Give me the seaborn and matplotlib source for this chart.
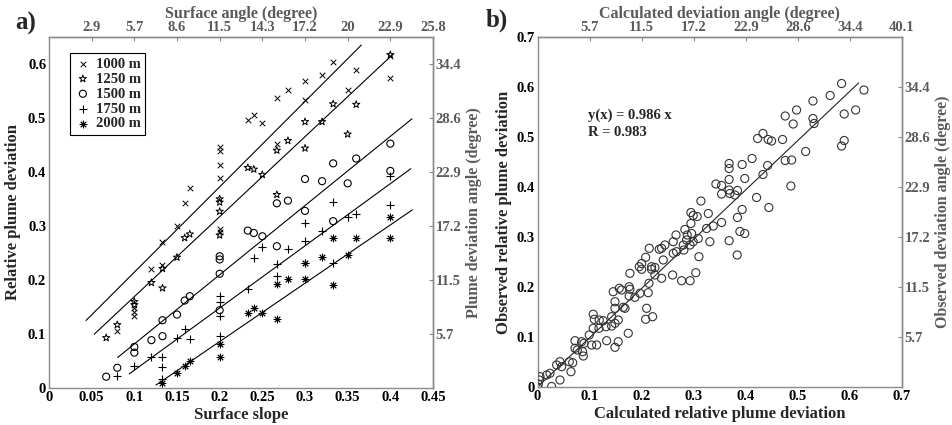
import numpy as np
import pandas as pd
import matplotlib
matplotlib.use("Agg")
import matplotlib.pyplot as plt
import seaborn as sns

# ---------------- data: panel a ----------------
depths = ["1000 m", "1250 m", "1500 m", "1750 m", "2000 m"]

slope_1000 = [0.08, 0.1, 0.1, 0.1, 0.12, 0.133, 0.133, 0.15, 0.159, 0.165,
              0.2, 0.2, 0.2, 0.2, 0.2, 0.2, 0.233, 0.24, 0.25, 0.267, 0.267,
              0.28, 0.3, 0.3, 0.32, 0.333, 0.35, 0.36, 0.4, 0.4]
dev_1000 = [0.105, 0.148, 0.14, 0.133, 0.22, 0.27, 0.228, 0.30, 0.342, 0.371,
            0.446, 0.438, 0.413, 0.389, 0.295, 0.288, 0.496, 0.505, 0.490, 0.537, 0.452,
            0.551, 0.569, 0.534, 0.579, 0.604, 0.551, 0.589, 0.614, 0.574]

slope_1250 = [0.067, 0.08, 0.1, 0.1, 0.12, 0.133, 0.133, 0.15, 0.159, 0.165,
              0.2, 0.2, 0.2, 0.2, 0.233, 0.24, 0.25, 0.267, 0.267, 0.28,
              0.3, 0.3, 0.32, 0.333, 0.35, 0.36, 0.4]
dev_1250 = [0.093, 0.117, 0.16, 0.154, 0.195, 0.221, 0.185, 0.242, 0.278, 0.285,
            0.35, 0.344, 0.327, 0.283, 0.408, 0.405, 0.395, 0.44, 0.358, 0.458,
            0.493, 0.444, 0.493, 0.526, 0.47, 0.525, 0.617]

slope_1500 = [0.067, 0.08, 0.1, 0.1, 0.12, 0.133, 0.133, 0.15, 0.159, 0.165,
              0.2, 0.2, 0.2, 0.2, 0.233, 0.24, 0.25, 0.267, 0.267, 0.28,
              0.3, 0.3, 0.32, 0.333, 0.333, 0.35, 0.36, 0.4, 0.4]
dev_1500 = [0.021, 0.0375, 0.076, 0.0655, 0.0886, 0.1255, 0.096, 0.136, 0.162, 0.170,
            0.2116, 0.144, 0.244, 0.238, 0.2915, 0.287, 0.281, 0.2626, 0.342, 0.347,
            0.387, 0.328, 0.383, 0.416, 0.309, 0.379, 0.425, 0.4525, 0.402]

slope_1750 = [0.08, 0.1, 0.12, 0.133, 0.133, 0.133, 0.15, 0.159, 0.165,
              0.2, 0.2, 0.2, 0.2, 0.233, 0.24, 0.25, 0.267, 0.267, 0.28,
              0.3, 0.3, 0.3, 0.32, 0.333, 0.333, 0.35, 0.36, 0.4, 0.4]
dev_1750 = [0.022, 0.0406, 0.0566, 0.0578, 0.039, 0.016, 0.0917, 0.109, 0.090,
            0.171, 0.159, 0.134, 0.097, 0.184, 0.24, 0.261, 0.23, 0.2066, 0.257,
            0.305, 0.272, 0.231, 0.29, 0.344, 0.2316, 0.317, 0.323, 0.3395, 0.393]

slope_2000 = [0.133, 0.15, 0.159, 0.165, 0.2, 0.2, 0.233, 0.24, 0.25, 0.267, 0.267,
              0.28, 0.3, 0.3, 0.32, 0.333, 0.333, 0.35, 0.36, 0.4, 0.4]
dev_2000 = [0.0087, 0.027, 0.041, 0.050, 0.0578, 0.082, 0.1395, 0.149, 0.1395, 0.128, 0.193,
            0.201, 0.2316, 0.201, 0.242, 0.278, 0.19, 0.2466, 0.278, 0.316, 0.278]

# linear fits per depth (slope, intercept, x-range)
fit_slope = [1.581, 1.481, 1.2815, 1.1515, 1.080]
fit_icpt = [0.0564, 0.0211, -0.0466, -0.0822, -0.130]
fit_xmin = [0.0434, 0.053, 0.0805, 0.094, 0.1254]
fit_xmax = [0.366, 0.403, 0.4254, 0.424, 0.4258]

a_xticks = [0, 0.05, 0.1, 0.15, 0.2, 0.25, 0.3, 0.35, 0.4, 0.45]
a_xticklabels = ["0", "0.05", "0.1", "0.15", "0.2", "0.25", "0.3", "0.35", "0.4", "0.45"]
a_yticks = [0, 0.1, 0.2, 0.3, 0.4, 0.5, 0.6]
a_yticklabels = ["0", "0.1", "0.2", "0.3", "0.4", "0.5", "0.6"]
a_top_labels = ["2.9", "5.7", "8.6", "11.5", "14.3", "17.2", "20", "22.9", "25.8"]
a_right_labels = ["5.7", "11.5", "17.2", "22.9", "28.6", "34.4"]

# ---------------- data: panel b ----------------
calc_dev = [0.0, 0.0016, 0.0035, 0.0048, 0.0177, 0.024, 0.0272, 0.0368, 0.0432, 0.0432,
            0.0464, 0.061, 0.0643, 0.0676, 0.072, 0.072, 0.0764, 0.0848, 0.0867, 0.088,
            0.0893, 0.0994, 0.104, 0.107, 0.107, 0.109, 0.1136, 0.118, 0.1186, 0.1263,
            0.1315, 0.1328, 0.1424, 0.1424, 0.1455, 0.1488, 0.1488, 0.1488, 0.1488, 0.1551,
            0.155, 0.157, 0.1616, 0.1647, 0.168, 0.1743, 0.176, 0.1775, 0.1775, 0.176,
            0.187, 0.1954, 0.1967, 0.2, 0.2, 0.2077, 0.2077, 0.2096, 0.2127, 0.214,
            0.2146, 0.219, 0.219, 0.2255, 0.2255, 0.221, 0.2338, 0.2383, 0.2383, 0.2415,
            0.2447, 0.2594, 0.2607, 0.2607, 0.266, 0.267, 0.2767, 0.28, 0.281, 0.283,
            0.293, 0.2863, 0.2876, 0.2927, 0.2946, 0.2946, 0.296, 0.299, 0.299, 0.304,
            0.3067, 0.3087, 0.31, 0.3138, 0.3247, 0.328, 0.331, 0.3375, 0.3426, 0.3535,
            0.3535, 0.3535, 0.368, 0.368, 0.368, 0.368, 0.368, 0.3695, 0.379, 0.3835,
            0.384, 0.384, 0.3887, 0.393, 0.393, 0.398, 0.398, 0.412, 0.4207, 0.4226,
            0.433, 0.433, 0.442, 0.443, 0.4443, 0.4495, 0.4706, 0.4757, 0.4757, 0.4866,
            0.488, 0.491, 0.4975, 0.515, 0.529, 0.529, 0.531, 0.562, 0.584, 0.584,
            0.589, 0.589, 0.611, 0.627]
obs_dev = [0.0, 0.006, 0.014, 0.0206, 0.024, 0.0274, 0.001, 0.044, 0.0506, 0.014,
           0.0406, 0.0506, 0.0306, 0.0486, 0.0926, 0.0774, 0.074, 0.0906, 0.0706, 0.062,
           0.0874, 0.104, 0.084, 0.1454, 0.1174, 0.1354, 0.084, 0.1174, 0.134, 0.1326,
           0.1206, 0.0926, 0.1406, 0.122, 0.1906, 0.1706, 0.1574, 0.1274, 0.0794, 0.134,
           0.0906, 0.1974, 0.194, 0.1594, 0.1574, 0.1074, 0.2006, 0.2274, 0.1954, 0.182,
           0.1794, 0.2406, 0.1874, 0.247, 0.2354, 0.2594, 0.1354, 0.1574, 0.1886, 0.2074,
           0.2774, 0.2406, 0.2354, 0.239, 0.224, 0.1406, 0.2754, 0.2774, 0.2174, 0.254,
           0.284, 0.224, 0.2906, 0.2674, 0.304, 0.2706, 0.2126, 0.284, 0.274, 0.315,
           0.2126, 0.294, 0.304, 0.284, 0.349, 0.327, 0.307, 0.343, 0.2906, 0.2286,
           0.341, 0.297, 0.2606, 0.372, 0.317, 0.347, 0.2906, 0.322, 0.406, 0.403,
           0.386, 0.329, 0.447, 0.437, 0.415, 0.394, 0.2926, 0.387, 0.384, 0.264,
           0.393, 0.339, 0.311, 0.445, 0.355, 0.417, 0.307, 0.457, 0.379, 0.497,
           0.507, 0.425, 0.443, 0.495, 0.359, 0.492, 0.495, 0.542, 0.453, 0.402,
           0.454, 0.526, 0.554, 0.471, 0.572, 0.537, 0.527, 0.583, 0.607, 0.482,
           0.546, 0.493, 0.554, 0.594]
reg_coef = 0.986
reg_r = 0.983
reg_xmax = 0.617

b_ticks = [0, 0.1, 0.2, 0.3, 0.4, 0.5, 0.6, 0.7]
b_ticklabels = ["0", "0.1", "0.2", "0.3", "0.4", "0.5", "0.6", "0.7"]
b_top_labels = ["5.7", "11.5", "17.2", "22.9", "28.6", "34.4", "40.1"]
b_right_labels = ["5.7", "11.5", "17.2", "22.9", "28.6", "34.4"]

# ---------------- style ----------------
sns.set_theme(style="white")
plt.rcParams["font.family"] = ["Liberation Serif", "DejaVu Serif"]
plt.rcParams["font.weight"] = "bold"
plt.rcParams["axes.labelweight"] = "bold"

GREY = "#8a8a8a"
GREY_TXT = "#5a5a5a"
TICK_FS = 10.5
LAB_FS = 12


def to_deg(v):
    return np.asarray(v) * 180.0 / np.pi


def to_rad(v):
    return np.asarray(v) * np.pi / 180.0


fig = plt.figure(figsize=(9.52, 4.25), dpi=100)
ax1 = fig.add_axes([49 / 952, 1 - 388 / 425, 384 / 952, 351 / 425])
ax2 = fig.add_axes([537.5 / 952, 1 - 387 / 425, 364.5 / 952, 350 / 425])

# ---------- panel a ----------
series = [
    (slope_1000, dev_1000, "x", dict(color="black", linewidths=0.7), 16),
    (slope_1250, dev_1250, "*", dict(facecolor="none", edgecolor="black", linewidths=0.7), 30),
    (slope_1500, dev_1500, "o", dict(facecolor="none", edgecolor="black", linewidths=0.8), 26),
    (slope_1750, dev_1750, "+", dict(color="black", linewidths=0.8), 34),
    (slope_2000, dev_2000, (8, 2, 0), dict(color="black", linewidths=0.7), 24),
]
for (xs, ys, mk, kw, sz), lab in zip(series, depths):
    df = pd.DataFrame({"slope": xs, "dev": ys})
    sns.scatterplot(data=df, x="slope", y="dev", marker=mk, s=sz, ax=ax1,
                    label=lab, zorder=3, **kw)

for k in range(len(depths)):
    xx = np.array([fit_xmin[k], fit_xmax[k]])
    dfl = pd.DataFrame({"x": xx, "y": fit_slope[k] * xx + fit_icpt[k]})
    sns.lineplot(data=dfl, x="x", y="y", color="black", linewidth=0.8, ax=ax1,
                 legend=False, zorder=2)

ax1.set_xlim(0, 0.45)
ax1.set_ylim(0, 0.65)
ax1.set_xticks(a_xticks, labels=a_xticklabels)
ax1.set_yticks(a_yticks, labels=a_yticklabels)
ax1.set_xlabel("Surface slope", fontsize=LAB_FS, fontweight="bold", labelpad=2)
ax1.set_ylabel("Relative plume deviation", fontsize=LAB_FS, fontweight="bold", labelpad=5)

leg = ax1.legend(loc="upper left", bbox_to_anchor=(0.035, 0.975), frameon=True,
                 fancybox=False, edgecolor="black", framealpha=1, borderpad=0.3,
                 labelspacing=0.12, handletextpad=0.3, handlelength=1.2,
                 prop={"family": "Liberation Serif", "weight": "bold", "size": 10.5})
leg.get_frame().set_linewidth(0.8)

top_a = ax1.secondary_xaxis("top", functions=(to_deg, to_rad))
top_a.set_ticks(to_deg(a_xticks[1:]), labels=a_top_labels)
top_a.set_xlabel("Surface angle (degree)", fontsize=LAB_FS - 0.5, fontweight="bold",
                 color=GREY_TXT, labelpad=2)
right_a = ax1.secondary_yaxis("right", functions=(to_deg, to_rad))
right_a.set_ticks(to_deg(a_yticks[1:]), labels=a_right_labels)
right_a.set_ylabel("Plume deviation angle (degree)", fontsize=LAB_FS - 0.5,
                   fontweight="bold", color=GREY_TXT, labelpad=3)

# ---------- panel b ----------
dfb = pd.DataFrame({"calc": calc_dev, "obs": obs_dev})
sns.scatterplot(data=dfb, x="calc", y="obs", marker="o", s=34, facecolor="none",
                edgecolor="#333333", linewidths=0.8, ax=ax2, zorder=3)
xr = np.array([0.0, reg_xmax])
sns.lineplot(x=xr, y=reg_coef * xr, color="#222222", linewidth=0.8, ax=ax2, zorder=2)
ax2.text(0.097, 0.544, f"y(x) = {reg_coef} x", fontsize=10.5, fontweight="bold",
         ha="left", va="center")
ax2.text(0.097, 0.51, f"R = {reg_r}", fontsize=10.5, fontweight="bold",
         ha="left", va="center")
ax2.set_xlim(0, 0.7)
ax2.set_ylim(0, 0.7)
ax2.set_xticks(b_ticks, labels=b_ticklabels)
ax2.set_yticks(b_ticks, labels=b_ticklabels)
ax2.set_xlabel("Calculated relative plume deviation", fontsize=LAB_FS,
               fontweight="bold", labelpad=2)
ax2.set_ylabel("Observed relative plume deviation", fontsize=LAB_FS,
               fontweight="bold", labelpad=3)

top_b = ax2.secondary_xaxis("top", functions=(to_deg, to_rad))
top_b.set_ticks(to_deg(b_ticks[1:]), labels=b_top_labels)
top_b.set_xlabel("Calculated deviation angle (degree)", fontsize=LAB_FS - 0.5,
                 fontweight="bold", color=GREY_TXT, labelpad=2)
right_b = ax2.secondary_yaxis("right", functions=(to_deg, to_rad))
right_b.set_ticks(to_deg(b_ticks[1:7]), labels=b_right_labels)
right_b.set_ylabel("Observed deviation angle (degree)", fontsize=LAB_FS - 0.5,
                   fontweight="bold", color=GREY_TXT, labelpad=3)

# ---------- common styling ----------
for ax in (ax1, ax2):
    for sp in ax.spines.values():
        sp.set_color(GREY)
        sp.set_linewidth(1.0)
    ax.tick_params(axis="both", direction="in", length=3, width=0.8, color=GREY,
                   labelsize=TICK_FS, labelcolor="black", pad=2)
    for lbl in ax.get_xticklabels() + ax.get_yticklabels():
        lbl.set_fontweight("bold")

for sec in (top_a, right_a, top_b, right_b):
    for sp in sec.spines.values():
        sp.set_color(GREY)
        sp.set_linewidth(1.0)
    sec.tick_params(direction="in", length=3, width=0.8, color=GREY,
                    labelsize=TICK_FS, labelcolor=GREY_TXT, pad=2)
for sec in (top_a, top_b):
    for lbl in sec.get_xticklabels():
        lbl.set_fontweight("bold")
for sec in (right_a, right_b):
    for lbl in sec.get_yticklabels():
        lbl.set_fontweight("bold")

fig.text(15 / 952, 1 - 23 / 425, "a)", fontsize=18, fontweight="bold", va="center", ha="left")
fig.text(486 / 952, 1 - 20 / 425, "b)", fontsize=18, fontweight="bold", va="center", ha="left")

fig.savefig("out.png", dpi=100)
